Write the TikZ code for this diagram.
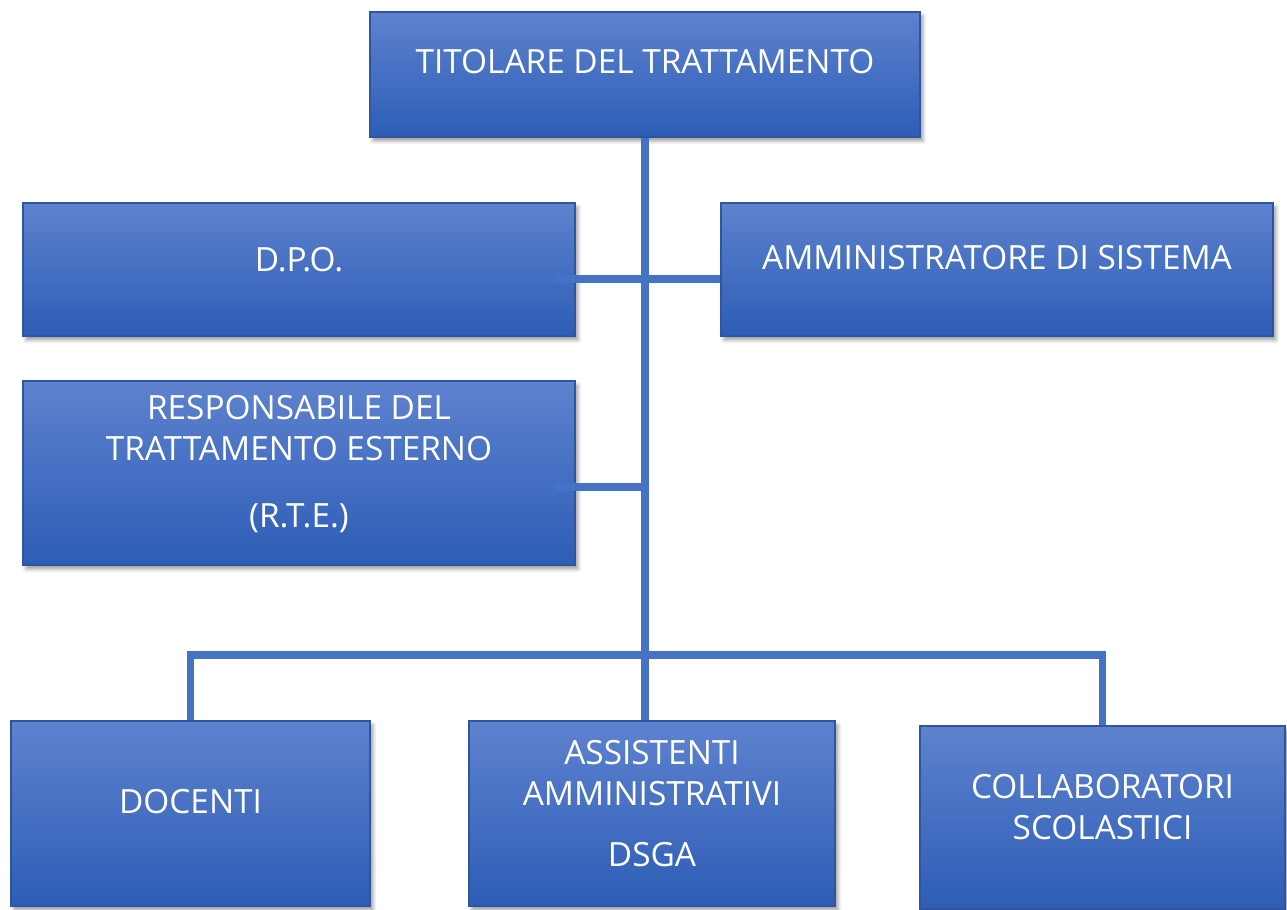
\documentclass[tikz,border=0pt]{standalone}
\usepackage{fontspec}
\setmainfont{Open Sans}
\usetikzlibrary{shadows.blur}
\definecolor{cima}{RGB}{94,130,206}
\definecolor{fondo}{RGB}{45,93,182}
\definecolor{bordo}{RGB}{46,86,160}
\definecolor{linea}{RGB}{68,114,196}
\begin{document}
\begin{tikzpicture}[x=0.02cm,y=-0.02cm]
  \tikzstyle{cornice}=[draw=bordo, line width=0.8pt, top color=cima, bottom color=fondo,
    blur shadow={shadow xshift=0.6mm, shadow yshift=-0.8mm, shadow blur steps=6, shadow opacity=40}]
  \tikzstyle{testo}=[text=white, font=\fontsize{19}{23}\selectfont, align=center, inner sep=0pt]
  \tikzstyle{ramo}=[draw=linea, line width=4.5pt]
  \useasboundingbox (0,0) rectangle (1287,909);
  \node[cornice, minimum width=11cm, minimum height=2.5cm] (titolare) at (645,74.5) {};
  \node[cornice, minimum width=11.04cm, minimum height=2.66cm] (dpo) at (299,269.5) {};
  \node[cornice, minimum width=11.04cm, minimum height=2.66cm] (ammin) at (997,269.5) {};
  \node[cornice, minimum width=11.04cm, minimum height=3.68cm] (rte) at (299,473) {};
  \node[cornice, minimum width=7.18cm, minimum height=3.7cm] (docenti) at (190.5,813.5) {};
  \node[cornice, minimum width=7.32cm, minimum height=3.7cm] (assistenti) at (652,813.5) {};
  \node[cornice, minimum width=7.3cm, minimum height=3.66cm] (collab) at (1102.5,817.5) {};
  \node[testo] (titolare-t) at (645,62) {TITOLARE DEL TRATTAMENTO};
  \node[testo] (dpo-t) at (299,260) {D.P.O.};
  \node[testo] (ammin-t) at (997,258) {AMMINISTRATORE DI SISTEMA};
  \node[testo] (rte-t) at (299,464) {RESPONSABILE DEL\\TRATTAMENTO ESTERNO\\[15pt](R.T.E.)};
  \node[testo] (docenti-t) at (190.5,802) {DOCENTI};
  \node[testo] (assistenti-t) at (652,804) {ASSISTENTI\\AMMINISTRATIVI\\[12pt]DSGA};
  \node[testo] (collab-t) at (1102.5,807) {COLLABORATORI\\SCOLASTICI};
  \coordinate (barra) at (648,655);
  \draw[ramo] (titolare.south) -- (titolare.south |- assistenti.north);
  \draw[ramo] ([xshift=-0.44cm,yshift=-0.19cm]dpo.east) -- ([yshift=-0.19cm]ammin.west);
  \draw[ramo] ([xshift=-0.44cm,yshift=-0.28cm]rte.east) -- ([yshift=-0.28cm]rte.east -| titolare.south);
  \draw[ramo] (docenti.north) -- (docenti.north |- barra) -- (collab.north |- barra) -- (collab.north);
\end{tikzpicture}
\end{document}
